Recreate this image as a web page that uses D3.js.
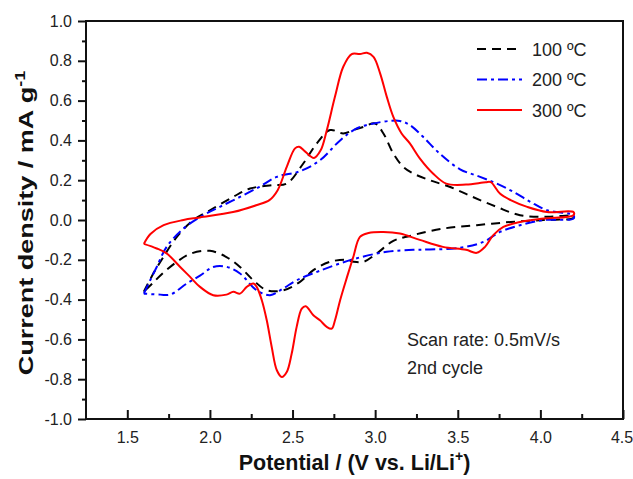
<!DOCTYPE html>
<html>
<head>
  <meta charset="utf-8">
  <title>CV curves</title>
  <style>
    body { margin: 0; padding: 0; background: #fff; }
    svg { display: block; font-family: Arial, "Liberation Sans", sans-serif; }
    .tick text { font-size: 16px; fill: #222; }
  </style>
</head>
<body>
  <svg id="chart" width="633" height="479"></svg>

  <script src="https://d3js.org/d3.v7.min.js"></script>
  <script>
    // 100 ºC (one closed loop, anodic then cathodic sweep)
    var v100 = [1.60, 1.65, 1.718, 1.80, 1.90, 2.00, 2.14, 2.243, 2.38, 2.465, 2.565, 2.647, 2.727, 2.807, 2.868, 2.93, 3.00, 3.05, 3.11, 3.17, 3.23, 3.33, 3.45, 3.59, 3.735, 3.877, 4.04, 4.20,
                4.20, 4.02, 3.82, 3.615, 3.413, 3.21, 3.11, 3.01, 2.93, 2.87, 2.83, 2.727, 2.626, 2.545, 2.444, 2.344, 2.263, 2.182, 2.10, 2.00, 1.88, 1.80, 1.718, 1.65, 1.60];
    var i100 = [-0.36, -0.28, -0.186, -0.085, 0.0, 0.049, 0.116, 0.158, 0.175, 0.183, 0.284, 0.385, 0.452, 0.435, 0.452, 0.468, 0.485, 0.435, 0.334, 0.267, 0.234, 0.20, 0.167, 0.116, 0.066, 0.024, 0.016, 0.02,
                0.01, 0.0, -0.01, -0.026, -0.043, -0.08, -0.105, -0.168, -0.21, -0.21, -0.20, -0.21, -0.252, -0.311, -0.353, -0.353, -0.303, -0.236, -0.186, -0.155, -0.17, -0.21, -0.265, -0.32, -0.36];

    // 200 ºC
    var v200 = [1.60, 1.64, 1.678, 1.738, 1.84, 1.96, 2.06, 2.182, 2.30, 2.405, 2.545, 2.666, 2.788, 2.888, 2.99, 3.09, 3.15, 3.21, 3.29, 3.39, 3.514, 3.635, 3.736, 3.837, 3.94, 4.04, 4.20,
                4.20, 4.02, 3.877, 3.756, 3.655, 3.514, 3.33, 3.23, 3.07, 2.868, 2.666, 2.525, 2.444, 2.364, 2.283, 2.182, 2.10, 2.02, 1.94, 1.86, 1.76, 1.70, 1.60];
    var i200 = [-0.37, -0.30, -0.236, -0.135, -0.043, 0.024, 0.066, 0.116, 0.167, 0.217, 0.245, 0.30, 0.40, 0.46, 0.485, 0.498, 0.498, 0.477, 0.418, 0.334, 0.255, 0.217, 0.183, 0.141, 0.091, 0.049, 0.024,
                0.007, 0.0, -0.026, -0.06, -0.11, -0.14, -0.148, -0.15, -0.16, -0.197, -0.255, -0.303, -0.344, -0.378, -0.353, -0.269, -0.235, -0.236, -0.28, -0.319, -0.375, -0.375, -0.37];

    // 300 ºC
    var v300 = [1.60, 1.64, 1.72, 1.84, 1.94, 2.14, 2.28, 2.36, 2.41, 2.465, 2.515, 2.54, 2.575, 2.63, 2.67, 2.707, 2.757, 2.807, 2.858, 2.908, 2.95, 2.99, 3.03, 3.07, 3.11, 3.16, 3.21, 3.27, 3.35, 3.43, 3.55, 3.67, 3.70, 3.755, 3.82, 3.92, 4.04, 4.20,
                4.20, 4.02, 3.877, 3.776, 3.715, 3.665, 3.615, 3.55, 3.41, 3.27, 3.15, 3.05, 2.96, 2.908, 2.868, 2.83, 2.788, 2.757, 2.737, 2.707, 2.666, 2.626, 2.58, 2.556, 2.525, 2.495, 2.465, 2.435, 2.405, 2.374, 2.344, 2.314, 2.283, 2.263, 2.223, 2.182, 2.142, 2.10, 2.02, 1.94, 1.88, 1.82, 1.738, 1.678, 1.60];
    var i300 = [-0.12, -0.07, -0.026, 0.0, 0.013, 0.04, 0.074, 0.10, 0.15, 0.267, 0.36, 0.368, 0.345, 0.312, 0.35, 0.45, 0.62, 0.77, 0.834, 0.834, 0.84, 0.82, 0.737, 0.62, 0.518, 0.435, 0.385, 0.31, 0.234, 0.183, 0.178, 0.19, 0.19, 0.133, 0.10, 0.066, 0.04, 0.04,
                0.024, 0.007, -0.01, -0.035, -0.076, -0.135, -0.165, -0.15, -0.135, -0.10, -0.068, -0.06, -0.065, -0.085, -0.185, -0.286, -0.403, -0.504, -0.546, -0.537, -0.504, -0.479, -0.433, -0.445, -0.537, -0.671, -0.764, -0.789, -0.755, -0.638, -0.504, -0.403, -0.336, -0.319, -0.336, -0.37, -0.361, -0.375, -0.378, -0.336, -0.286, -0.236, -0.168, -0.143, -0.12];

    var seriesNames = ["100 ºC", "200 ºC", "300 ºC"];
    var xTicks = [1.5, 2.0, 2.5, 3.0, 3.5, 4.0, 4.5];
    var xMinor = [1.75, 2.25, 2.75, 3.25, 3.75, 4.25];
    var yTicks = [-1.0, -0.8, -0.6, -0.4, -0.2, 0.0, 0.2, 0.4, 0.6, 0.8, 1.0];
    var yMinor = [-0.9, -0.7, -0.5, -0.3, -0.1, 0.1, 0.3, 0.5, 0.7, 0.9];

    var padL = 86, padR = 623, padT = 21, padB = 419;
    var svg = d3.select("#chart");

    var x = d3.scaleLinear().domain([1.25, 4.5]).range([padL, padR]);
    var y = d3.scaleLinear().domain([-1, 1]).range([padB, padT]);

    // axes
    var gx = svg.append("g").attr("transform", "translate(0," + padB + ")")
      .call(d3.axisBottom(x).tickValues(xTicks).tickSizeInner(-9).tickSizeOuter(0).tickPadding(12.5)
        .tickFormat(function (d) { return d.toFixed(1); }));
    var gxm = svg.append("g").attr("transform", "translate(0," + padB + ")")
      .call(d3.axisBottom(x).tickValues(xMinor).tickSizeInner(-5).tickSizeOuter(0).tickFormat(""));
    var gy = svg.append("g").attr("transform", "translate(" + padL + ",0)")
      .call(d3.axisLeft(y).tickValues(yTicks).tickSizeInner(8).tickSizeOuter(0).tickPadding(6)
        .tickFormat(function (d) { return d.toFixed(1); }));
    var gym = svg.append("g").attr("transform", "translate(" + padL + ",0)")
      .call(d3.axisLeft(y).tickValues(yMinor).tickSizeInner(4).tickSizeOuter(0).tickFormat(""));
    [gx, gxm, gy, gym].forEach(function (g) {
      g.select(".domain").remove();
      g.selectAll(".tick line").attr("stroke", "#111").attr("stroke-width", 2);
    });
    // last x label sits right on the window edge, keep it inside
    gx.selectAll(".tick text").filter(function (d) { return d === 4.5; }).attr("dx", -1.5);

    // curves
    var line = d3.line()
      .x(function (d) { return x(d[0]); })
      .y(function (d) { return y(d[1]); })
      .curve(d3.curveCatmullRom.alpha(0.5));

    var series = [
      { v: v100, i: i100, color: "#000", dash: "9,6" },
      { v: v200, i: i200, color: "#0000ff", dash: "10,4,3,4" },
      { v: v300, i: i300, color: "#ff0000", dash: null }
    ];
    series.forEach(function (s) {
      svg.append("path")
        .datum(d3.zip(s.v, s.i))
        .attr("d", line)
        .attr("fill", "none")
        .attr("stroke", s.color)
        .attr("stroke-width", 2)
        .attr("stroke-dasharray", s.dash);
    });

    // frame
    svg.append("rect")
      .attr("x", padL).attr("y", padT)
      .attr("width", padR - padL).attr("height", padB - padT)
      .attr("fill", "none").attr("stroke", "#111").attr("stroke-width", 2);

    // legend
    var legend = svg.append("g");
    series.forEach(function (s, k) {
      var ly = 49 + k * 30.5;
      legend.append("line")
        .attr("x1", 477).attr("x2", 522).attr("y1", ly).attr("y2", ly)
        .attr("stroke", s.color).attr("stroke-width", 2)
        .attr("stroke-dasharray", s.dash);
      legend.append("text")
        .attr("x", 532).attr("y", ly + 6.5)
        .attr("font-size", 18).attr("fill", "#222")
        .text(seriesNames[k]);
    });

    // annotation
    svg.append("text").attr("x", 407).attr("y", 346).attr("font-size", 18).attr("fill", "#222")
      .text("Scan rate: 0.5mV/s");
    svg.append("text").attr("x", 407).attr("y", 374).attr("font-size", 18).attr("fill", "#222")
      .text("2nd cycle");

    // x title
    var xt = svg.append("text").attr("x", (padL + padR) / 2).attr("y", 470)
      .attr("text-anchor", "middle").attr("font-size", 21.5).attr("font-weight", "bold").attr("fill", "#111");
    xt.append("tspan").text("Potential / (V vs. Li/Li");
    xt.append("tspan").attr("dy", -9).attr("font-size", 14).text("+");
    xt.append("tspan").attr("dy", 9).text(")");

    // y title
    var yt = svg.append("text")
      .attr("text-anchor", "middle").attr("font-size", 21).attr("font-weight", "bold").attr("fill", "#111");
    yt.append("tspan").text("Current density / mA g");
    yt.append("tspan").attr("dy", -8).attr("font-size", 14).text("-1");
    var yw = yt.node().getComputedTextLength();
    yt.attr("transform", "translate(33,223) rotate(-90) scale(" + (305 / yw) + ",1)");
  </script>
</body>
</html>
